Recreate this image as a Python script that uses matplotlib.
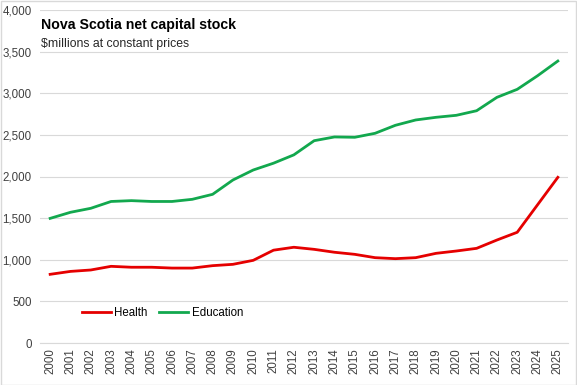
import matplotlib.pyplot as plt
from matplotlib.ticker import FuncFormatter

years = list(range(2000, 2026))
health = [825, 860, 877, 921, 910, 910, 900, 900, 929, 945, 993, 1115,
          1150, 1125, 1090, 1065, 1025, 1013, 1025, 1077, 1105, 1137,
          1237, 1330, 1660, 1990]
education = [1497, 1570, 1618, 1700, 1710, 1700, 1700, 1726, 1786, 1958,
             2078, 2160, 2260, 2430, 2475, 2471, 2519, 2615, 2679, 2711,
             2735, 2790, 2951, 3047, 3210, 3387]

plt.rcParams['font.family'] = ['Liberation Sans', 'DejaVu Sans']

fig = plt.figure(figsize=(5.77, 3.85), dpi=100)
ax = fig.add_axes([40 / 577, 42 / 385, 528 / 577, 333 / 385])

ax.plot(years, health, color='#e50000', lw=2.0, label='Health')
ax.plot(years, education, color='#12a84e', lw=2.0, label='Education')

ax.set_ylim(0, 4000)
ax.set_xlim(1999.5, 2025.5)
ax.set_yticks(range(0, 4001, 500))
ax.yaxis.set_major_formatter(FuncFormatter(lambda v, p: f'{int(v):,}'))
ax.set_xticks(years)
ax.set_xticklabels([str(y) for y in years], rotation=90)
ax.tick_params(axis='both', length=0, labelsize=8.3, colors='#404040')
ax.tick_params(axis='y', pad=6)
ax.tick_params(axis='x', pad=4)
ax.grid(axis='y', color='#d9d9d9', lw=0.8)
ax.set_axisbelow(True)
for s in ['top', 'right', 'left']:
    ax.spines[s].set_visible(False)
ax.spines['bottom'].set_color('#d9d9d9')

ax.text(0.002, 0.975, 'Nova Scotia net capital stock', transform=ax.transAxes,
        fontsize=10.2, fontweight='bold', va='top', ha='left')
ax.text(0.002, 0.915, '$millions at constant prices', transform=ax.transAxes,
        fontsize=8.8, va='top', ha='left', color='#262626')

ax.legend(loc='lower left', bbox_to_anchor=(0.06, 0.04), ncol=2, frameon=False,
          fontsize=8.3, handlelength=2.5, handletextpad=0.3, columnspacing=1.0)

fig.patches.append(plt.Rectangle((0.001, 0.001), 0.997, 0.997, transform=fig.transFigure,
                                 fill=False, edgecolor='#d9d9d9', lw=1))
fig.savefig('out.png', dpi=100)
